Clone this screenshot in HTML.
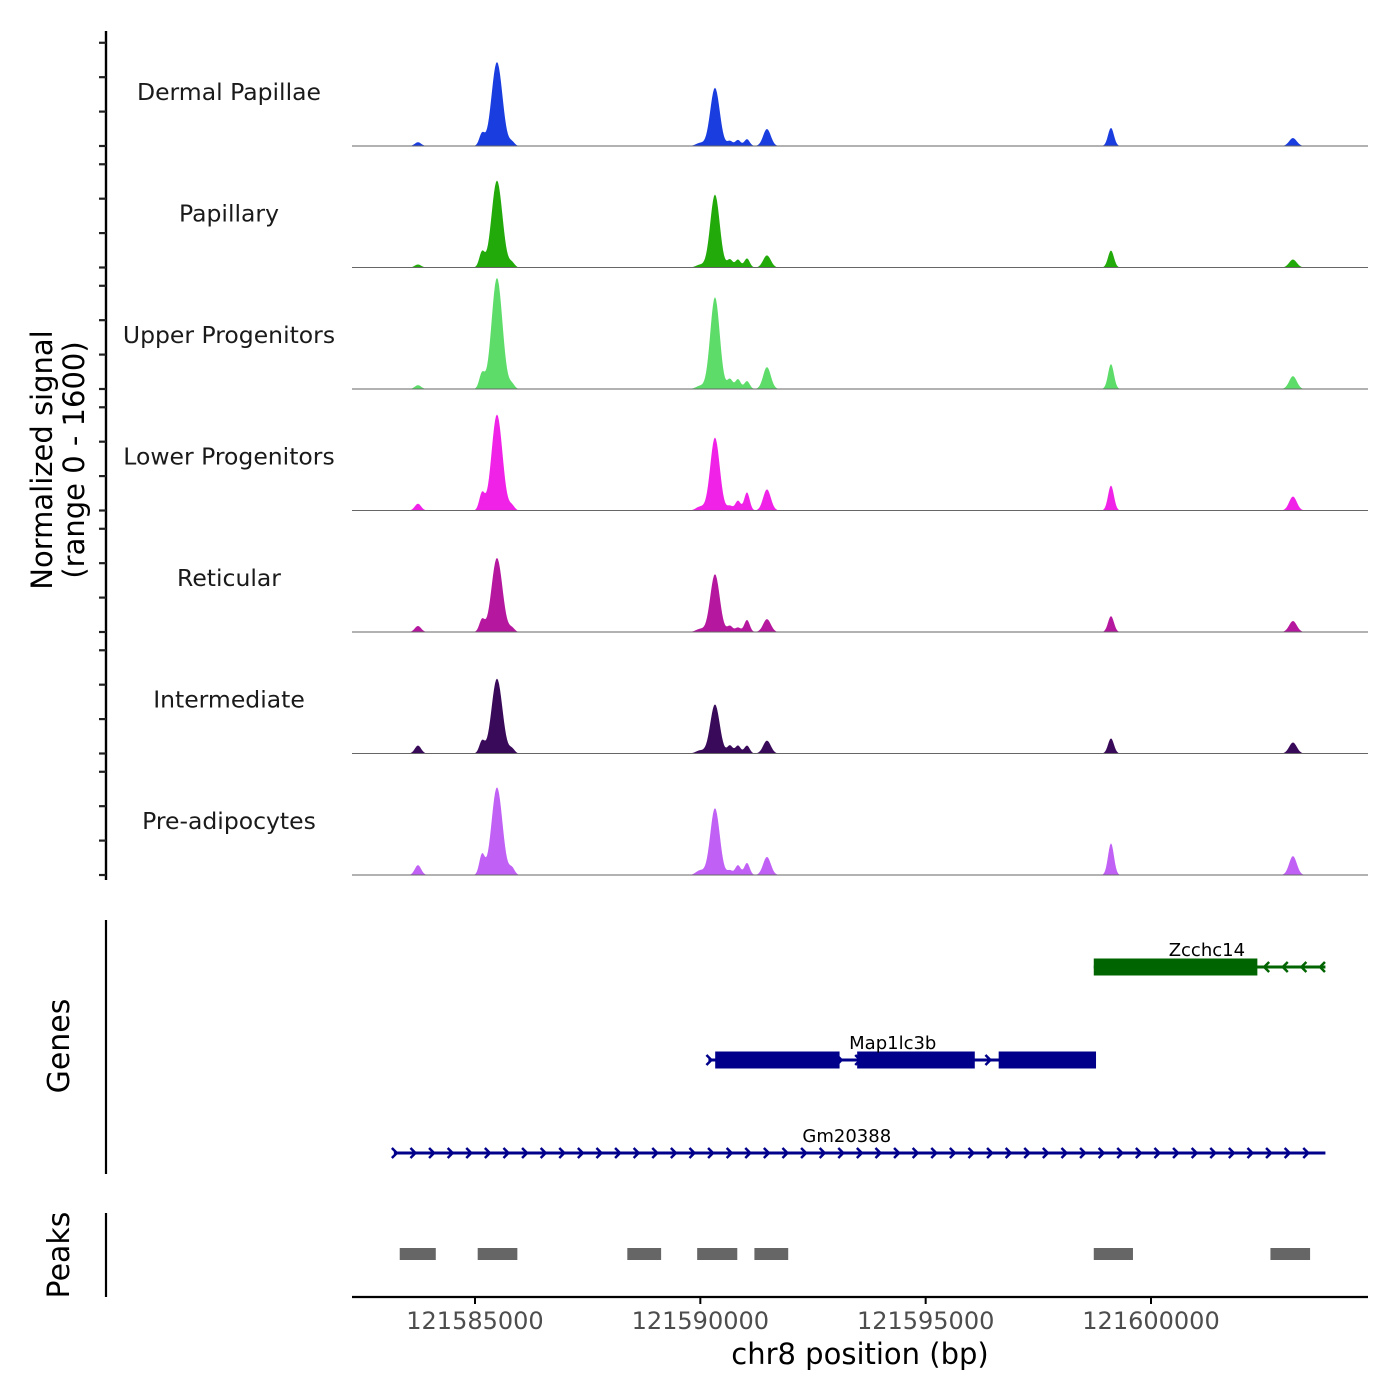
<!DOCTYPE html>
<html><head><meta charset="utf-8"><style>
body{margin:0;background:#fff}
svg{display:block;font-family:"DejaVu Sans","Liberation Sans",sans-serif}
</style></head><body>
<svg id="c" width="1400" height="1400" viewBox="0 0 1400 1400">
<rect width="1400" height="1400" fill="#fff"/>
<g id="tracks"></g>
<g id="leftaxis"></g>
<text transform="translate(52,460) rotate(-90)" text-anchor="middle" font-size="29">Normalized signal</text>
<text transform="translate(84,460) rotate(-90)" text-anchor="middle" font-size="29">(range 0 - 1600)</text>
<g id="genes"></g>
<line x1="106" y1="920" x2="106" y2="1174" stroke="#000" stroke-width="2.2"/>
<text transform="translate(69,1046) rotate(-90)" text-anchor="middle" font-size="30">Genes</text>
<g id="peaks"></g>
<line x1="106" y1="1213" x2="106" y2="1297" stroke="#000" stroke-width="2.2"/>
<text transform="translate(69,1255) rotate(-90)" text-anchor="middle" font-size="30">Peaks</text>
<g id="xaxis"></g>
<text x="860" y="1364" text-anchor="middle" font-size="29">chr8 position (bp)</text>
</svg>
<script>
const trackNames=["Dermal Papillae","Papillary","Upper Progenitors","Lower Progenitors","Reticular","Intermediate","Pre-adipocytes"];
const trackColors=["#1a3de0","#22aa0a","#5ddc6a","#f022e8","#b5179e","#3a0a5a","#c060f5"];
const peakCenters=[121583735,121585155,121585488,121585821,121589992,121590325,121590658,121590835,121591035,121591479,121599112,121603150];
const peakWidths=[70,60,120,60,90,105,60,60,60,85,65,85];
const sigDermal=[50,160,1110,50,40,770,65,80,90,225,240,105];
const sigPapillary=[40,200,1150,60,35,965,105,105,120,160,225,105];
const sigUpper=[50,200,1470,60,40,1215,130,130,105,290,330,170];
const sigLower=[90,225,1270,60,50,965,60,130,240,280,330,185];
const sigReticular=[80,160,980,50,40,765,80,60,160,170,210,145];
const sigIntermediate=[105,160,990,60,40,650,105,105,105,170,200,145];
const sigPreadipo=[130,265,1160,90,60,885,60,130,160,240,420,250];
const allSignals=[sigDermal,sigPapillary,sigUpper,sigLower,sigReticular,sigIntermediate,sigPreadipo];
const yTickVals=[0,455,910,1365];
const xTicks=[121585000,121590000,121595000,121600000];
const peakRegions=[[121583330,121584130],[121585060,121585940],[121588380,121589130],[121589930,121590820],[121591200,121591950],[121598730,121599600],[121602650,121603530]];
const genes=[
 {name:"Zcchc14",color:"#006400",y:967,strand:-1,start:121598730,end:121603870,exons:[[121598730,121602360]],labelX:121601240},
 {name:"Map1lc3b",color:"#00008b",y:1060,strand:1,start:121590180,end:121598780,exons:[[121590330,121593090],[121593480,121596090],[121596620,121598780]],labelX:121594270},
 {name:"Gm20388",color:"#00008b",y:1153,strand:1,start:121583200,end:121603870,exons:[],labelX:121593250}
];
const X0=121582271,X1=121604815,PX0=352,PX1=1368;
const xs=b=>PX0+(b-X0)/(X1-X0)*(PX1-PX0);
const base0=146,step=121.5,maxV=1600,trackH=121;
const ys=(v,i)=>base0+i*step-v/maxV*trackH;
const NS="http://www.w3.org/2000/svg";
function mk(tag,attrs,parent){const e=document.createElementNS(NS,tag);for(const k in attrs)e.setAttribute(k,attrs[k]);parent.appendChild(e);return e;}
const T=document.getElementById('tracks');
allSignals.forEach((sig,i)=>{
  let d=`M${PX0},${ys(0,i)}`;
  for(let px=PX0;px<=PX1;px+=1){
    const b=X0+(px-PX0)/(PX1-PX0)*(X1-X0);
    let v=0;
    peakCenters.forEach((c,k)=>{const z=(b-c)/peakWidths[k];v+=sig[k]*Math.exp(-0.5*z*z);});
    d+=`L${px},${ys(v,i).toFixed(2)}`;
  }
  d+=`L${PX1},${ys(0,i)}Z`;
  const p=mk('path',{d:d,fill:trackColors[i]},T);
  
  
  const l=mk('line',{x1:PX0,x2:PX1,y1:ys(0,i),y2:ys(0,i),stroke:"#666","stroke-width":1},T);
  
  
  const t=mk('text',{x:229,y:base0+i*step-46,"text-anchor":"middle","font-size":23.5,fill:"#1a1a1a"},T);
  t.textContent=trackNames[i];
  
  
});
const LA=document.getElementById('leftaxis');
mk('line',{x1:106,x2:106,y1:31,y2:880,stroke:"#000","stroke-width":2.4},LA);
for(let i=0;i<allSignals.length;i++){
  yTickVals.forEach(v=>{const y=ys(v,i);
    const tk=mk('line',{x1:99,x2:106,y1:y,y2:y,stroke:"#222","stroke-width":2.2},LA);
    
    });
}
const G=document.getElementById('genes');
genes.forEach(g=>{
  const x1=xs(g.start),x2=xs(g.end);
  mk('line',{x1:x1,x2:x2,y1:g.y,y2:g.y,stroke:g.color,"stroke-width":3},G);
  for(let x=x1+3;x<=x2+1;x+=18.6){
    const a=g.strand>0?`M${x-5},${g.y-5}L${x},${g.y}L${x-5},${g.y+5}`:`M${x+5},${g.y-5}L${x},${g.y}L${x+5},${g.y+5}`;
    mk('path',{d:a,stroke:g.color,"stroke-width":2.5,fill:"none"},G);
  }
  g.exons.forEach(e=>{const r=mk('rect',{x:xs(e[0]),y:g.y-8.5,width:xs(e[1])-xs(e[0]),height:17,fill:g.color},G);
    
    });
  const t=mk('text',{x:xs(g.labelX),y:g.y-11,"text-anchor":"middle","font-size":18},G);
  t.textContent=g.name;
  
  
});
const P=document.getElementById('peaks');
peakRegions.forEach(r=>{const e=mk('rect',{x:xs(r[0]),y:1248,width:xs(r[1])-xs(r[0]),height:12,fill:"#666"},P);
  
  });
const XA=document.getElementById('xaxis');
mk('line',{x1:PX0,x2:PX1,y1:1297,y2:1297,stroke:"#000","stroke-width":2.2},XA);
xTicks.forEach(v=>{const x=xs(v);
  mk('line',{x1:x,x2:x,y1:1297,y2:1304,stroke:"#000","stroke-width":2},XA);
  const t=mk('text',{x:x,y:1329,"text-anchor":"middle","font-size":24,fill:"#4d4d4d"},XA);
  t.textContent=v;
  
  });
</script>
</body></html>
